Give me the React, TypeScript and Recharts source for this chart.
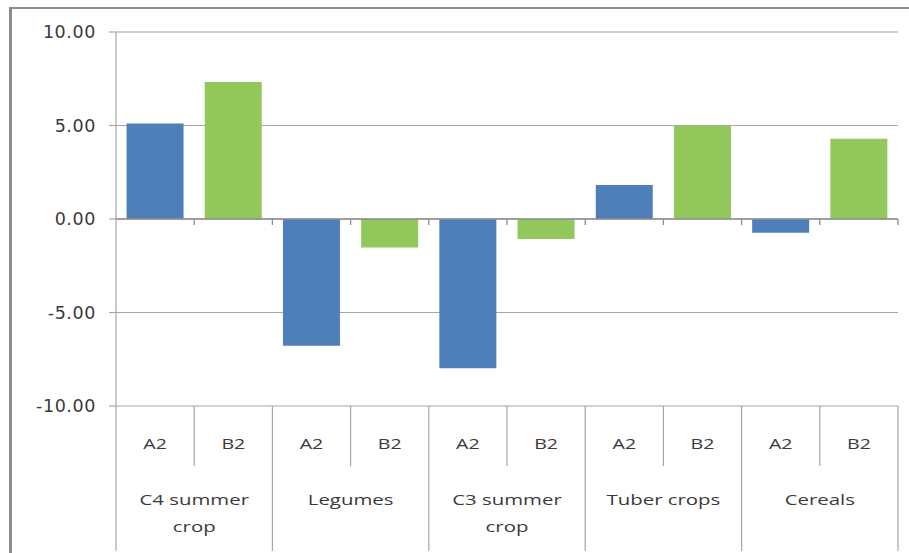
import React from 'react';
import { BarChart, Bar, XAxis, YAxis, CartesianGrid, ReferenceLine, Cell } from 'recharts';

const groups = ['C4 summer crop', 'Legumes', 'C3 summer crop', 'Tuber crops', 'Cereals'];
const scenarios = ['A2', 'B2'];
const a2Values = [5.11, -6.78, -7.98, 1.82, -0.73];
const b2Values = [7.32, -1.52, -1.07, 5.0, 4.29];
const yTicks = [-10, -5, 0, 5, 10];

const colors: Record<string, string> = { A2: '#4F7FB8', B2: '#92C75B' };

const chartData = groups.flatMap((g, gi) => [
  { key: `${g}|A2`, group: g, scenario: 'A2', value: a2Values[gi] },
  { key: `${g}|B2`, group: g, scenario: 'B2', value: b2Values[gi] },
]);

const W = 909;
const H = 553;
const M = { top: 32, right: 11, left: 0, bottom: 0 };
const Y_W = 116;
const X_H = 147;
const PLOT_W = W - Y_W - M.right - M.left;
const SLOT = PLOT_W / chartData.length;
const LINE = '#A6A6A6';
const TEXT = '#3A3A3A';
const FONT = '"Open Sans", Lato, sans-serif';

const wrap = (s: string): string[] => {
  if (s.length <= 12) return [s];
  const i = s.lastIndexOf(' ');
  return [s.slice(0, i), s.slice(i + 1)];
};

const CategoryTick = (props: any) => {
  const { x, y, index } = props;
  const row = chartData[index];
  if (!row) return null;
  const half = SLOT / 2;
  const isLastInGroup = row.scenario === scenarios[scenarios.length - 1];
  const rightX = x + half;
  const leftX = x - half;
  const bottom = y + X_H;
  const lines = wrap(row.group);
  return (
    <g>
      {index === 0 && <line x1={leftX} y1={y} x2={leftX} y2={bottom - 2} stroke={LINE} strokeWidth={1.2} />}
      <line
        x1={rightX}
        y1={y}
        x2={rightX}
        y2={isLastInGroup ? bottom - 2 : y + 60}
        stroke={LINE}
        strokeWidth={1.2}
      />
      <text
        transform={`translate(${x},${y + 43}) scale(1.4,1)`}
        textAnchor="middle"
        fontFamily={FONT}
        fontSize={14}
        fill={TEXT}
      >
        {row.scenario}
      </text>
      {!isLastInGroup &&
        lines.map((ln, li) => (
          <text
            key={li}
            transform={`translate(${rightX},${y + 99 + li * 27}) scale(1.36,1)`}
            textAnchor="middle"
            fontFamily={FONT}
            fontSize={15}
            fill={TEXT}
          >
            {ln}
          </text>
        ))}
    </g>
  );
};

const ZeroAxis = (p: any) => {
  const { x1, y1, x2 } = p;
  const n = chartData.length;
  const step = (x2 - x1) / n;
  return (
    <g>
      <line x1={x1} y1={y1} x2={x2} y2={y1} stroke="#8E8E8E" strokeWidth={1.3} />
      {Array.from({ length: n }, (_, i) => (
        <line key={i} x1={x1 + (i + 1) * step} y1={y1} x2={x1 + (i + 1) * step} y2={y1 + 6} stroke="#8E8E8E" strokeWidth={1.3} />
      ))}
    </g>
  );
};

export default function App() {
  return (
    <div style={{ position: 'absolute', left: 0, top: 0, width: W, height: H, background: '#fff' }}>
      <div
        style={{
          position: 'absolute',
          left: 9,
          top: 7,
          width: W - 9,
          height: H - 7,
          borderLeft: '3px solid #8C8C8C',
          borderTop: '2px solid #8C8C8C',
          boxSizing: 'border-box',
          pointerEvents: 'none',
        }}
      />
      <BarChart width={W} height={H} data={chartData} margin={M} barCategoryGap="13.5%">
        <CartesianGrid vertical={false} stroke={LINE} strokeWidth={1.2} />
        <XAxis
          dataKey="key"
          interval={0}
          height={X_H}
          axisLine={false}
          tickLine={false}
          tickSize={0}
          tickMargin={0}
          tick={(p: any) => <CategoryTick {...p} />}
        />
        <YAxis
          width={Y_W}
          domain={[-10, 10]}
          ticks={yTicks}
          tickFormatter={(v: number) => v.toFixed(2)}
          tickSize={7}
          tickMargin={13}
          axisLine={{ stroke: LINE, strokeWidth: 1.2 }}
          tickLine={{ stroke: LINE, strokeWidth: 1.2 }}
          tick={{ fontFamily: '"DejaVu Sans", sans-serif', fontSize: 17.5, fill: TEXT, letterSpacing: 0.6 }}
        />
        <Bar dataKey="value" isAnimationActive={false}>
          {chartData.map((d) => (
            <Cell key={d.key} fill={colors[d.scenario]} />
          ))}
        </Bar>
        <ReferenceLine y={0} shape={(p: any) => <ZeroAxis {...p} />} />
      </BarChart>
    </div>
  );
}
